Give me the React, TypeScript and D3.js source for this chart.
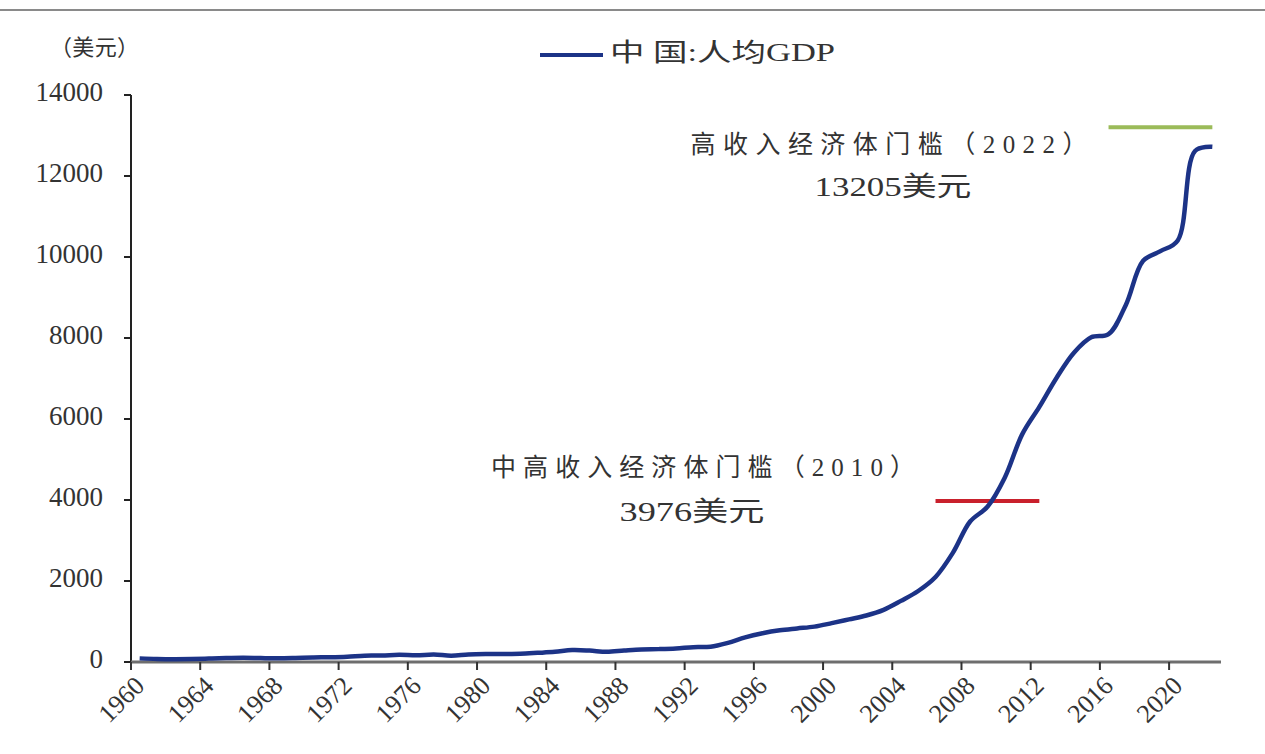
import React from "react";
import * as d3 from "d3";

// 中国人均GDP（美元），1960-2022
const years = d3.range(1960, 2023);
const gdpPerCapita = [
  89.5, 75.8, 70.9, 74.3, 85.5, 98.5, 104.3, 96.6, 91.5, 100.1,
  113.2, 118.7, 131.9, 157.1, 160.1, 178.3, 165.4, 185.4, 156.4, 183.9,
  194.8, 197.1, 203.3, 225.4, 250.7, 294.5, 281.9, 251.8, 283.5, 310.9,
  317.9, 333.1, 366.5, 377.4, 473.5, 609.7, 709.4, 781.7, 828.6, 873.3,
  959.4, 1053.1, 1148.5, 1288.6, 1508.7, 1753.4, 2099.2, 2694.0, 3468.3, 3832.2,
  4550.5, 5614.4, 6300.6, 7020.4, 7636.1, 8016.4, 8094.4, 8817.0, 9905.3, 10143.9,
  10408.7, 12617.5, 12720.2,
];
const yTicks = [0, 2000, 4000, 6000, 8000, 10000, 12000, 14000];
const xTickYears = d3.range(1960, 2021, 4);

// 门槛线
const upperMiddle = { value: 3976, from: 2006, to: 2012, label: "中高收入经济体门槛（2010）", sub: "3976美元" };
const highIncome = { value: 13205, from: 2016, to: 2022, label: "高收入经济体门槛（2022）", sub: "13205美元" };

const FONT = "'Liberation Serif', 'Noto Sans CJK SC', serif";
const TEXT = "#333";

export default function App() {
  const W = 1265;
  const H = 754;
  const plot = { left: 131, right: 1221, top: 95, bottom: 662 };

  const x = d3.scaleBand<number>().domain(years).range([plot.left, plot.right]).padding(0);
  const cx = (yr: number) => (x(yr) ?? 0) + x.bandwidth() / 2;
  const y = d3.scaleLinear().domain([0, 14000]).range([plot.bottom, plot.top]);

  const points = years.map((yr, i) => [yr, gdpPerCapita[i]] as [number, number]);
  const line = d3
    .line<[number, number]>()
    .x((d) => cx(d[0]))
    .y((d) => y(d[1]))
    .curve(d3.curveCatmullRom.alpha(0.5));

  return (
    <svg
      width={W}
      height={H}
      style={{ position: "absolute", left: 0, top: 0, background: "#fff" }}
      fontFamily={FONT}
    >
      {/* 标题下分隔线 */}
      <line x1={0} x2={W} y1={10} y2={10} stroke="#8a8a8a" strokeWidth={2} />

      {/* 单位 */}
      <text x={50} y={50} fontSize={22} fill={TEXT} dominantBaseline="middle" textLength={89} lengthAdjust="spacing">
        （美元）
      </text>

      {/* 图例 */}
      <line x1={540} x2={603} y1={55} y2={55} stroke="#1c3387" strokeWidth={4} />
      <text x={610} y={55} fontSize={25} fill={TEXT} dominantBaseline="middle" textLength={225} lengthAdjust="spacingAndGlyphs">
        中 国:人均GDP
      </text>

      {/* Y 轴 */}
      <line x1={plot.left} x2={plot.left} y1={plot.top} y2={plot.bottom} stroke="#222" strokeWidth={2} />
      {yTicks.map((t) => (
        <g key={t}>
          <line x1={plot.left - 7} x2={plot.left} y1={y(t)} y2={y(t)} stroke="#222" strokeWidth={2} />
          <text
            x={plot.left - 28}
            y={y(t)}
            fontSize={27}
            fill={TEXT}
            textAnchor="end"
            dominantBaseline="middle"
          >
            {t}
          </text>
        </g>
      ))}

      {/* X 轴 */}
      <line x1={plot.left} x2={plot.right} y1={plot.bottom} y2={plot.bottom} stroke="#6e6e6e" strokeWidth={3} />
      {xTickYears.map((yr) => {
        const tx = x(yr) ?? 0;
        const lx = cx(yr) + 2;
        const ly = plot.bottom + 21;
        return (
          <g key={yr}>
            <line x1={tx} x2={tx} y1={plot.bottom} y2={plot.bottom + 8} stroke="#333" strokeWidth={2} />
            <text
              x={lx}
              y={ly}
              fontSize={26}
              fill={TEXT}
              textAnchor="end"
              dominantBaseline="middle"
              transform={`rotate(-45, ${lx}, ${ly})`}
            >
              {yr}
            </text>
          </g>
        );
      })}

      {/* 门槛线 */}
      <line
        x1={cx(upperMiddle.from)}
        x2={cx(upperMiddle.to)}
        y1={y(upperMiddle.value)}
        y2={y(upperMiddle.value)}
        stroke="#c9202c"
        strokeWidth={4}
      />
      <line
        x1={cx(highIncome.from)}
        x2={cx(highIncome.to)}
        y1={y(highIncome.value)}
        y2={y(highIncome.value)}
        stroke="#9bbb59"
        strokeWidth={4}
      />

      {/* 人均GDP 曲线 */}
      <path d={line(points) ?? ""} fill="none" stroke="#1c3387" strokeWidth={4.5} strokeLinejoin="round" />

      {/* 注释 */}
      <text x={889} y={147} fontSize={25} fill={TEXT} textAnchor="middle" dominantBaseline="middle" textLength={397} lengthAdjust="spacing">
        {highIncome.label}
      </text>
      <text x={893} y={190} fontSize={27} fill={TEXT} textAnchor="middle" dominantBaseline="middle" textLength={157} lengthAdjust="spacingAndGlyphs">
        {highIncome.sub}
      </text>
      <text x={703} y={470} fontSize={25} fill={TEXT} textAnchor="middle" dominantBaseline="middle" textLength={424} lengthAdjust="spacing">
        {upperMiddle.label}
      </text>
      <text x={692} y={515} fontSize={27} fill={TEXT} textAnchor="middle" dominantBaseline="middle" textLength={145} lengthAdjust="spacingAndGlyphs">
        {upperMiddle.sub}
      </text>
    </svg>
  );
}
